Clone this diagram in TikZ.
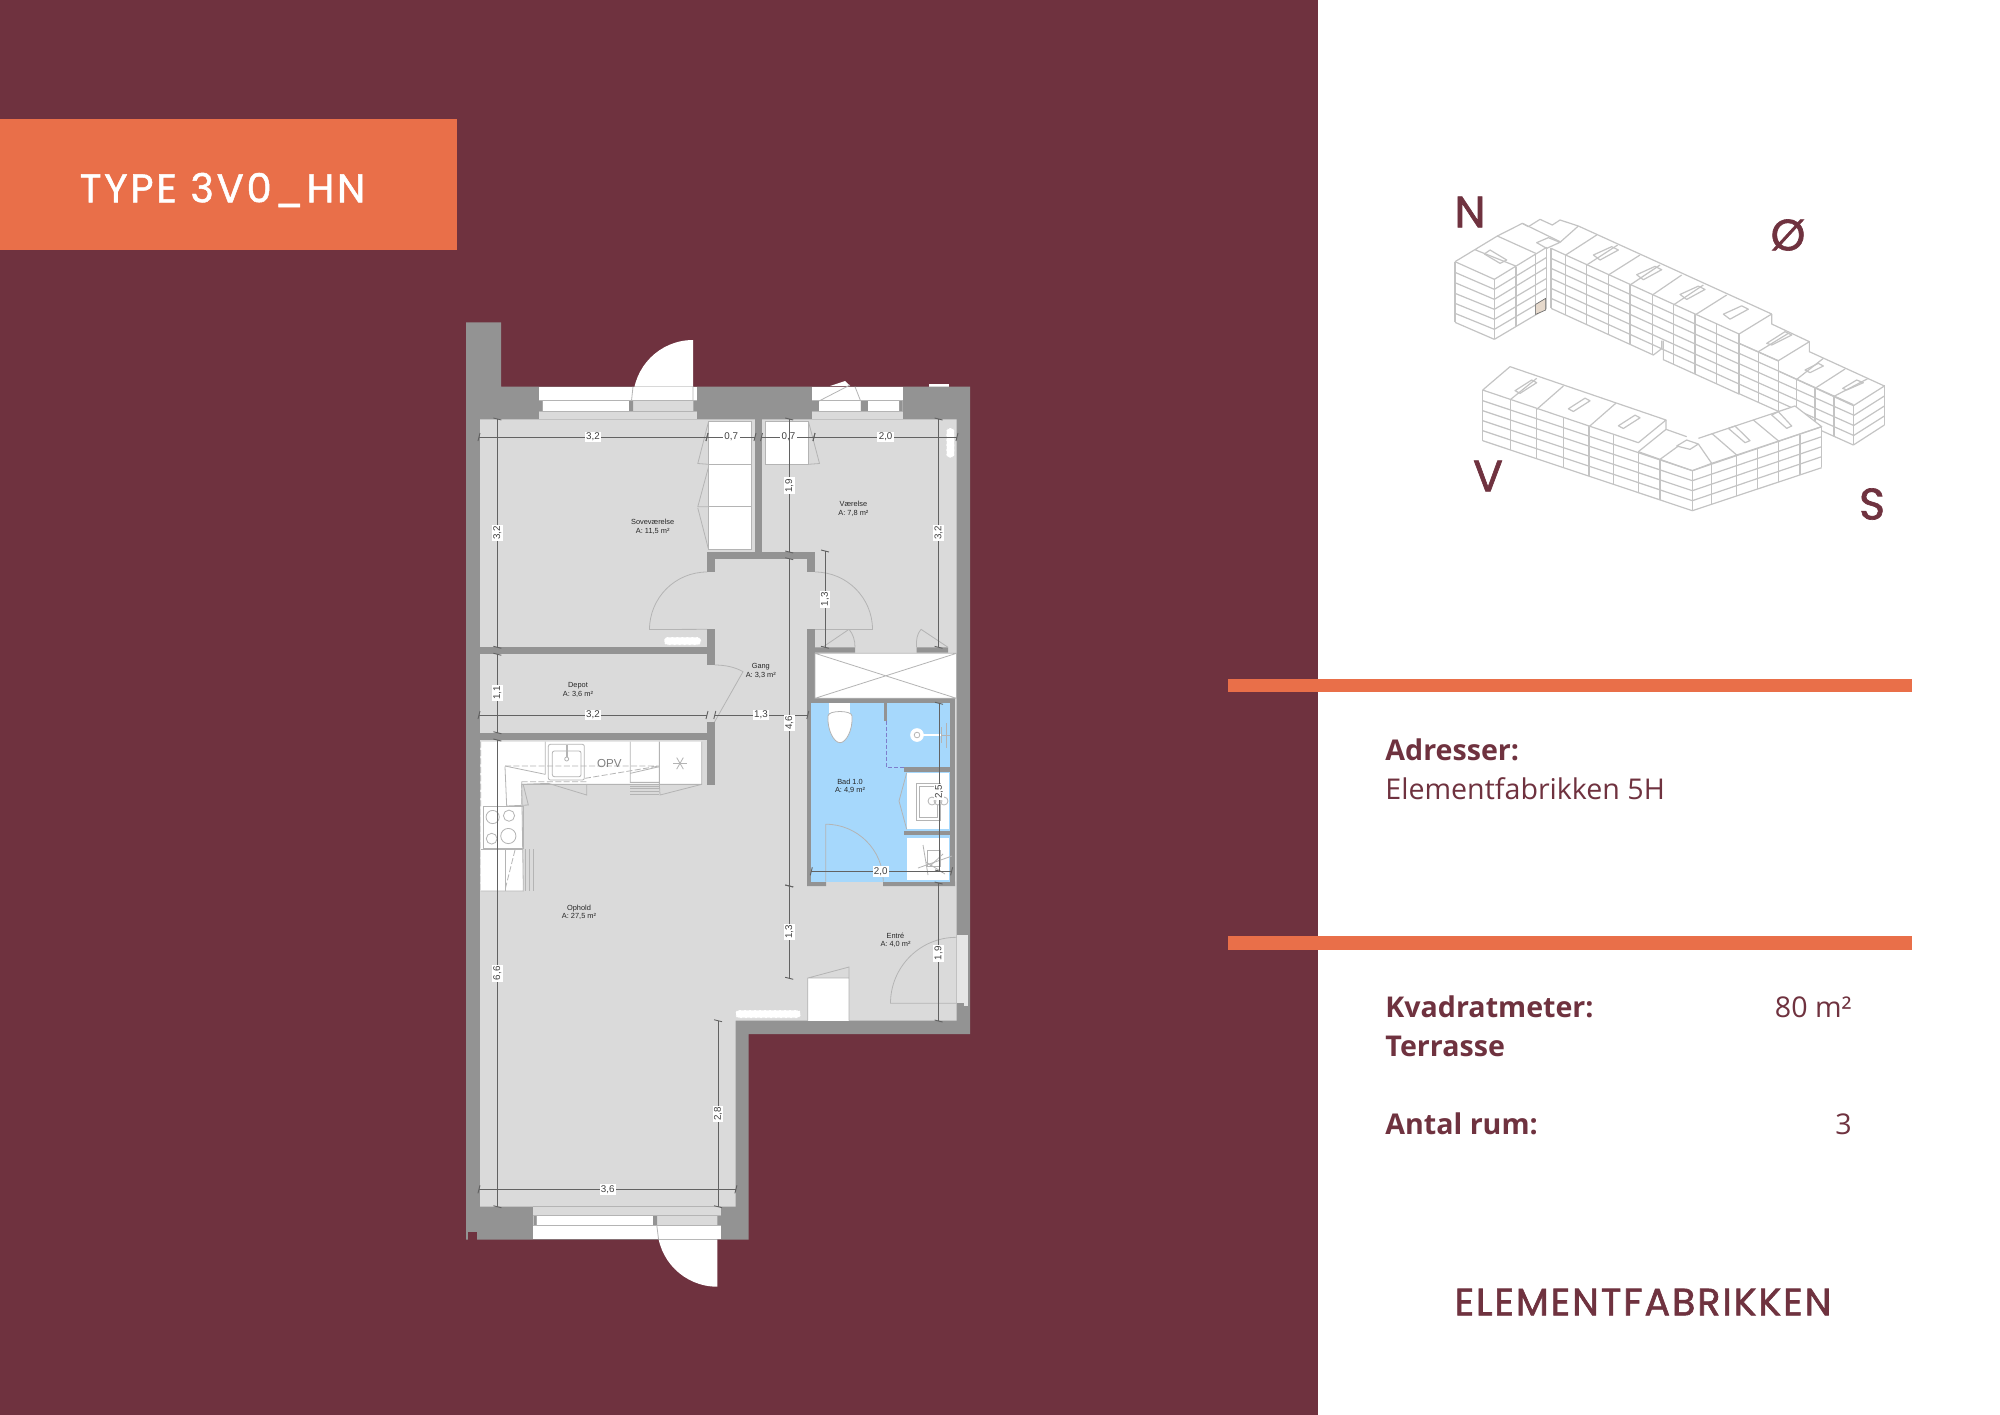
\documentclass[tikz,border=0pt]{standalone}
\usepackage{fontspec}
\setmainfont{Open Sans}
\newfontfamily\geo[LetterSpace=7,FakeBold=1.2]{Poppins}
\newfontfamily\geot[LetterSpace=5.2,FakeBold=1.6]{Poppins}
\newfontfamily\geob[FakeBold=1.5]{Poppins}
\newfontfamily\lab{Liberation Sans}
\definecolor{maroon}{HTML}{6F323F}
\definecolor{orng}{HTML}{E96F49}
\definecolor{wall}{HTML}{939393}
\definecolor{flr}{HTML}{DADADA}
\definecolor{thin}{HTML}{B4B4B4}
\definecolor{bath}{HTML}{A6D8FC}
\definecolor{dimc}{HTML}{626262}
\definecolor{bl}{HTML}{C4C4C4}
\tikzset{
  wl/.style={fill=wall,draw=none},
  wh/.style={fill=white,draw=none},
  fl/.style={draw=thin,line width=.4pt},
  flw/.style={draw=thin,line width=.4pt,fill=white},
  flash/.style={draw=thin,line width=.4pt,dash pattern=on 3pt off 1.2pt},
  rad/.style={fill=white,draw=flr,rounded corners=1.6pt,dash pattern=on 1.5pt off 1pt,line width=.3pt},
  dimln/.style={draw=dimc,line width=.45pt},
  dimlb/.style={fill=white,inner sep=.7pt,text=black!75,font=\lab\fontsize{4.9}{5.6}\selectfont},
  rm/.style={align=center,text=black!85,font=\lab\fontsize{3.7}{4.4}\selectfont,inner sep=0pt},
  bld/.style={draw=bl,line width=.6pt,line join=round},
  comp/.style={text=maroon,font=\geob\fontsize{22}{25}\selectfont,inner sep=0pt},
  info/.style={text=maroon,anchor=base west,inner sep=0pt,font=\fontsize{14.3}{17}\selectfont},
  inforr/.style={text=maroon,anchor=base east,inner sep=0pt,font=\fontsize{14.3}{17}\selectfont},
}
\newcommand\dimH[5]{%
  \draw[dimln] (#1,#3) -- (#2,#3);
  \draw[dimln] (#1-1,#3+4) -- (#1+1,#3-4) (#2-1,#3+4) -- (#2+1,#3-4);
  \node[dimlb] at (#5,#3) {#4};}
\newcommand\dimV[5]{%
  \draw[dimln] (#3,#1) -- (#3,#2);
  \draw[dimln] (#3-4,#1-1) -- (#3+4,#1+1) (#3-4,#2-1) -- (#3+4,#2+1);
  \node[dimlb,rotate=90] at (#3,#5) {#4};}
\begin{document}
\begin{tikzpicture}[x=.5pt,y=-.5pt]
\useasboundingbox (0,0) rectangle (2000,1414);
\fill[maroon] (-5,-5) rectangle (1318,1425);
\fill[white] (1318,-5) rectangle (2005,1425);
% title
\fill[orng] (-5,119) rectangle (457,250);
\node[text=white,inner sep=0pt,font=\geo\fontsize{20}{22}\selectfont] (title) at (222.5,190) {TYPE 3V0\_HN};
% info bars
\fill[orng] (1228,678.5) rectangle (1912,691.5);
\fill[orng] (1228,936) rectangle (1912,950);
\node[info] (a1) at (1385,760) {\bfseries Adresser:};
\node[info] (a2) at (1385,799) {Elementfabrikken 5H};
\node[info] (k1) at (1385,1017) {\bfseries Kvadratmeter:};
\node[inforr] (k2) at (1852,1017) {80 m²};
\node[info] (t1) at (1385,1056) {\bfseries Terrasse};
\node[info] (r1) at (1385,1134) {\bfseries Antal rum:};
\node[inforr] (r2) at (1852,1134) {3};
\node[text=maroon,inner sep=0pt,font=\geot\fontsize{19}{22}\selectfont] (brand) at (1643,1302) {ELEMENTFABRIKKEN};
% compass
\node[comp] (n) at (1470,212) {N};
\node[comp] (o) at (1788,235) {Ø};
\node[comp] (v) at (1488,476) {V};
\node[comp] (s) at (1872,504) {S};
% building
\begin{scope}[shift={(1420,170)},x=.16667pt,y=-.16667pt]
 \foreach \a/\b in {275/328,307/358,338/388,370/418,400/448,430/478,457/508} \draw[bld] (105,\a)--(223,\b);
 \foreach \a/\b in {328/232,358/262,388/292,418/325,448/355,478/385,508/415} \draw[bld] (223,\a)--(380,\b);
 \foreach \a/\b/\c in {105/275/457,223/328/508,288/290/470,347/252/435,380/232/415,393/235/415} \draw[bld] (\a,\b)--(\a,\c);
 \draw[bld] (105,275)--(232,198)--(347,250) (167,240)--(287,288);
 \draw[bld] (232,198)--(307,160)--(325,170)--(360,148)--(397,165)--(420,150)--(475,168)--(1055,432);
 \draw[bld] (307,160)--(420,215);
 \draw[bld] (350,218)--(385,203)--(420,217)--(380,235)--cycle (420,217)--(475,168);
 \draw[bld] (193,252)--(210,240)--(260,270)--(240,280)--cycle;
 \fill[fill=black!20!brown!25!white,draw=black!60,line width=.3pt] (347,403)--(377,385)--(377,420)--(347,433)--cycle;
 % wing B
 \foreach \a in {235,265,295,325,355,385} \draw[bld] (393,\a)--(957,{\a+257});
 \draw[bld] (393,415)--(700,555)--(725,536)--(725,512) (730,512)--(730,569)--(957,672);
 \foreach \x in {437,500,565,630,697} \draw[bld] (\x,{235+.456*(\x-393)})--(\x,{415+.456*(\x-393)});
 \foreach \x in {760,825,890,957} \draw[bld] (\x,{235+.456*(\x-393)})--(\x,{415+.456*(\x-393)});
 \foreach \a/\b/\c/\d in {437/255/530/195,500/285/593/225,565/315/660/255,630/345/720/285,697/375/785/315,760/405/850/345,825/435/920/375,957/492/1055/432}
   \draw[bld] (\a,\b)--(\c,\d);
 \foreach \p in {0,130,260,390}
   \draw[bld] ({520+\p},{255+.455*\p})--({575+\p},{230+.455*\p})--({595+\p},{240+.455*\p})--({540+\p},{270+.455*\p})--cycle;
 % step 2
 \draw[bld] (1055,432)--(1055,462)--(1168,515)--(1075,572)--(957,520);
 \draw[bld] (1015,545)--(1105,490);
 \draw[bld] (1040,520)--(1095,485)--(1115,495)--(1055,525)--cycle;
 \foreach \a in {550,581,612,642,671} \draw[bld] (957,\a)--(1300,{\a+154});
 \draw[bld] (957,520)--(1075,573);
 \draw[bld] (1015,545)--(1015,697) (1075,573)--(1075,725);
 % step 3
 \draw[bld] (1168,515)--(1168,545)--(1393,648)--(1300,707)--(1075,603);
 \draw[bld] (1130,628)--(1210,565) (1185,655)--(1275,597) (1240,680)--(1345,625);
 \draw[bld] (1155,600)--(1195,580)--(1210,588)--(1170,608)--cycle;
 \draw[bld] (1268,655)--(1310,630)--(1330,638)--(1280,660)--cycle;
 \foreach \x/\b in {1130/750,1185/770,1242/797,1300/825,1393/765} \draw[bld] (\x,{\b-120})--(\x,\b);
 \foreach \a/\b in {737/678,767/708,797/738,825/765} \draw[bld] (1300,\a)--(1393,\b);
 % south wing
 \fill[white] (188,660)--(270,590)--(738,750)--(825,805)--(1125,708)--(1205,770)--(1205,893)--(817,1022)--(188,812)--cycle;
 \draw[bld] (188,660)--(270,590)--(738,750)--(655,818)--(188,660);
 \draw[bld] (738,750)--(738,778)--(655,845);
 \foreach \a in {692,722,752,782,812} \draw[bld] (188,\a)--(817,{\a+210});
 \foreach \x in {188,272,350,430,507,580} \draw[bld] (\x,{660+.335*(\x-188)})--(\x,{812+.335*(\x-188)});
 \draw[bld] (655,845)--(655,968) (720,868)--(720,990) (817,902)--(817,1022);
 \draw[bld] (272,688)--(350,625) (350,718)--(430,648) (507,770)--(587,700);
 \foreach \p in {0,160,310} \draw[bld] ({285+\p},{662+.34*\p})--({335+\p},{630+.34*\p})--({350+\p},{638+.34*\p})--({300+\p},{670+.34*\p})--cycle;
 \draw[bld] (738,778)--(800,800) (655,845)--(720,868)--(775,828);
 \draw[bld] (720,868)--(817,902)--(875,880)--(1205,770)--(1125,708)--(835,805);
 \draw[bld] (770,828)--(800,810)--(835,822)--(810,838)--cycle;
 \draw[bld] (835,822)--(875,880) (875,790)--(950,855) (1000,750)--(1078,815);
 \draw[bld] (925,775)--(945,768)--(990,812)--(975,818)--cycle;
 \draw[bld] (1055,735)--(1075,725)--(1115,768)--(1100,775)--cycle;
 \foreach \a/\b in {902/770,932/800,962/830,992/860,1022/893} \draw[bld] (817,\a)--(1205,\b);
 \foreach \x in {875,950,1012,1075,1140,1205} \draw[bld] (\x,{902-.335*(\x-817)})--(\x,{1022-.335*(\x-817)});
\end{scope}
% ---- plan
\fill[white] (693,400)--(633,400) arc[start angle=180,end angle=270,radius=60]--cycle;
\fill[white] (717.3,1226.7)--(717.3,1286.7) arc[start angle=90,end angle=180,radius=60]--cycle;
\fill[white] (830,386)--(845,381)--(850,386)--cycle;
\fill[white] (929,384) rectangle (949,387);
\fill[wall] (466,322.3)--(501,322.3)--(501,386.7)--(970,386.7)--(970,1034)--(748.5,1034)--(748.5,1239.5)--(466,1239.5)--cycle;
\fill[flr] (480,419.3)--(956.5,419.3)--(956.5,1020.7)--(735.5,1020.7)--(735.5,1206.7)--(480,1206.7)--cycle;
\fill[maroon] (467.5,1231.7) rectangle (477,1239.5);
% top window 1
\fill[white] (538.5,387) rectangle (697,400.7);
\fill[flr] (538.5,400.7) rectangle (697,419.3);
\fill[wall] (538.5,400.7) rectangle (542.5,411) (629,400.7) rectangle (633,411) (693.4,400.7) rectangle (697,411);
\fill[white] (542.5,400.7) rectangle (629,411);
\draw[fl] (538.5,400.7)--(697,400.7) (538.5,411)--(697,411);
\draw[fl] (633,386.7)--(631.5,400.7) (693,386.7)--(693,400.7);
% top window 2
\fill[white] (812,387) rectangle (902.5,400.7);
\fill[flr] (812,400.7) rectangle (902.5,419.3);
\fill[wall] (812,400.7) rectangle (819,411) (860.5,400.7) rectangle (868,411) (899,400.7) rectangle (902.5,411);
\fill[white] (819,400.7) rectangle (860.5,411) (868,400.7) rectangle (899,411);
\draw[fl] (812,400.7)--(902.5,400.7) (812,411)--(902.5,411);
\draw[fl] (819,401)--(850,385) (855,386.7)--(860.5,400.7);
% bottom window
\fill[flr] (533,1206.7) rectangle (721,1225.3);
\fill[white] (533,1225.3) rectangle (721,1238.7);
\fill[wall] (533.5,1215) rectangle (536.6,1225.3) (652.7,1215) rectangle (657,1225.3) (717.3,1215) rectangle (721,1225.3);
\fill[white] (536.6,1215) rectangle (652.7,1225.3);
\draw[fl] (533,1215)--(721,1215) (533,1225.3)--(721,1225.3) (533,1206.7)--(721,1206.7);
\draw[fl] (656.8,1225.3)--(658.5,1239);
% entry door recess
\fill[flr!70!white] (956.5,935) rectangle (968,1003);
\fill[wall] (956.5,1003) rectangle (970,1021);
\fill[flr!70!white] (964,1003) rectangle (968,1006);
% interior walls
\fill[wl] (755,419.3) rectangle (762,553);
\fill[wl] (707,552) rectangle (815,558.7);
\fill[wl] (707,552) rectangle (714.5,572);
\fill[wl] (807,552) rectangle (815,572);
\fill[wl] (707,629.3) rectangle (714.5,665);
\fill[wl] (480,647.3) rectangle (714.5,654.3);
\fill[wl] (480,732.7) rectangle (714.5,740);
\fill[wl] (707,722) rectangle (714.5,785);
% bath + closet walls
\fill[wl] (807,629.3) rectangle (815,886);
\fill[wl] (815,647.3) rectangle (855,652.7) (916.5,647.3) rectangle (948,652.7);
\fill[wl] (807,698) rectangle (955,703.3);
\fill[wl] (950,698) rectangle (955,886);
\fill[wl] (807,881.7) rectangle (826,886) (883,881.7) rectangle (955,886);
% closet
\fill[white] (815,653.3) rectangle (956.5,698.3);
\draw[fl] (815,653.3) rectangle (956.5,698.3) (815,653.3)--(956.5,698.3) (815,698.3)--(956.5,653.3);
\draw[fl] (822.5,647.3)--(849,629.3) (849,629.3) .. controls (853,634) and (855,640) .. (855,647.3);
\draw[fl] (948,647.3)--(921,629.3) (921,629.3) .. controls (917,634) and (916,640) .. (916.5,647.3);
% bath
\fill[bath] (811.3,703.3) rectangle (950,881.7);
\fill[wl] (884,703.3) rectangle (886.7,720.7);
\draw[draw=thin!70!blue,line width=.4pt,dash pattern=on 2pt off 1pt] (886.7,720.7)--(886.7,767.3)--(903.5,767.3);
\fill[wl] (903.5,767.3) rectangle (950,772);
\fill[wl] (903.5,830.7) rectangle (950,835.3);
\fill[white] (906.7,772.7) rectangle (949,829.3);
\fill[white] (906.7,837.7) rectangle (949,880);
\draw[fl] (930,866)--(943,854) (926,862) -- (945,874);
\draw[fl] (927,850) rectangle (940,866);
\draw[fl] (923,845)--(928,875) (918,868) -- (952,856);
\draw[fl] (916,783) rectangle (940,820) (919,786) rectangle (937,817);
\draw[fl] (906.7,772.7)--(899,801)--(906.7,829.3);
\draw[draw=thin,line width=.4pt,fill=white] (932,801) circle (2pt) (938,801) circle (2pt) (944,801) circle (2pt);
% toilet
\fill[white] (829,703.3) rectangle (850,713);
\fill[white] (828,716) .. controls (828,710) and (852,710) .. (852,716) .. controls (853,730) and (846,742.7) .. (840,742.7) .. controls (834,742.7) and (827,730) .. (828,716) -- cycle;
\draw[fl] (828,716) .. controls (828,710) and (852,710) .. (852,716) .. controls (853,730) and (846,742.7) .. (840,742.7) .. controls (834,742.7) and (827,730) .. (828,716) -- cycle;
% shower
\draw[draw=white,line width=1pt] (917,735)--(941,735);
\filldraw[fill=white,draw=white] (917,735) circle (3.2pt);
\draw[fl] (917,735) circle (1.4pt);
\draw[fl] (941,727)--(941,743) (946,723)--(946,748) (941,735)--(950,735);
% bath door
\draw[fl] (825.7,881.7)--(825.7,824.2) arc[start angle=270,end angle=360,radius=57.5];
% kitchen
\begin{scope}[shift={(470,735)},x=.16667pt,y=-.16667pt]
 \fill[white] (32,20)--(695,20)--(695,148)--(155,148)--(160,468)--(32,468)--cycle;
 \draw[fl] (695,20)--(695,148)--(155,148)--(160,468)--(32,468);
 \draw[flash,draw=flr] (32,20)--(32,468);
 \draw[fl] (40,215) rectangle (160,340) (32,342)--(160,342);
 \draw[fl] (68,246) circle (3.3pt) (117,242) circle (2.8pt) (65,311) circle (2.7pt) (115,303) circle (3.8pt);
 \draw[fl,rounded corners=1pt] (235,28) rectangle (343,135) (247,48) rectangle (333,125);
 \draw[draw=thin,line width=1pt] (290,30)--(290,65);
 \draw[fl] (290,72) circle (1pt);
 \draw[fl] (226,20)--(226,118) (481,20)--(481,142)--(568,142) (568,20)--(568,148) (481,115)--(568,95);
 \draw[flash] (105,93)--(481,93)--(568,93) (155,140)--(355,140) (155,140)--(155,212) (345,130)--(568,93) (32,20)--(32,215);
 \draw[fl] (105,93)--(226,118);
 \draw[flash] (135,345)--(105,465);
 \draw[fl] (481,153)--(568,153) (481,161)--(568,161) (481,170)--(568,170) (481,178)--(568,178);
 \draw[fl] (568,148)--(570,180)--(695,148) (155,148)--(235,145)--(350,180)--(350,148);
 \draw[fl] (160,150)--(175,210)--(110,213)--(105,95);
 \draw[fl] (165,342)--(165,468) (178,342)--(178,468) (190,342)--(190,468);
 \draw[fl] (105,342)--(105,468);
 \foreach \t in {0,60,120} \draw[fl] ({630+20*cos(\t)},{85+20*sin(\t)})--({630-20*cos(\t)},{85-20*sin(\t)});
 \node[text=black!50,inner sep=0pt,font=\lab\fontsize{5.8}{7}\selectfont] (opv) at (418,85) {OPV};
\end{scope}
% wardrobes
\draw[flw] (708.5,421.7) rectangle (751.6,549.3);
\draw[fl] (708.5,464.3)--(751.6,464.3) (708.5,506.7)--(751.6,506.7);
\draw[fl] (708.5,421.7)--(697.8,463.5)--(708.5,464.3) (708.5,467)--(697.8,506.7)--(708.5,506.7) (697.8,508)--(708.5,549.3);
\draw[flw] (765.7,421.7) rectangle (808.5,464.3);
\draw[fl] (808.5,421.7)--(819.5,463.5)--(808.5,464.3);
% entry closet
\fill[white] (807.8,978) rectangle (849,1020.7);
\draw[fl] (807.8,1020.7)--(807.8,978)--(849,967)--(849,1020.7) (807.8,978)--(849,978);
% radiators
\draw[rad] (664,637) rectangle (701,645);
\draw[rad] (946.3,428) rectangle (954.4,457.7);
\draw[rad] (735.5,1010) rectangle (800.7,1018);
% doors
\draw[fl] (707,572) arc[start angle=270,end angle=180,radius=57.5]--(707,629.3);
\draw[fl] (815,572) arc[start angle=270,end angle=360,radius=57.5]--(815,629.5);
\draw[fl] (714.5,665) .. controls (725,665) and (735,667) .. (743,671.7)--(714.5,722);
\draw[fl] (956.5,937.3) arc[start angle=270,end angle=180,radius=66]--(956.5,1003.3);
% dims
\dimH{479}{707}{437}{3,2}{593}
\dimH{707}{755}{437}{0,7}{731.3}
\dimH{761.5}{814}{437}{0,7}{788.5}
\dimH{814}{957}{437}{2,0}{885.6}
\dimH{479}{707}{715}{3,2}{593}
\dimH{714.8}{807.8}{715}{1,3}{761}
\dimH{811.3}{951.6}{871.3}{2,0}{880.7}
\dimH{479}{735.9}{1189.3}{3,6}{607.8}
\dimV{419}{647.3}{497.4}{3,2}{533}
\dimV{654.3}{732.7}{497.4}{1,1}{693}
\dimV{740}{1206.7}{497.4}{6,6}{973.3}
\dimV{419}{552}{789.2}{1,9}{485.7}
\dimV{558.7}{886}{789.2}{4,6}{722.7}
\dimV{886}{978.3}{789.2}{1,3}{931.7}
\dimV{419}{647.3}{938.6}{3,2}{533}
\dimV{883}{1021}{938.6}{1,9}{953.3}
\dimV{703.3}{871}{939}{2,5}{791.7}
\dimV{551}{647.3}{825}{1,3}{599.3}
\dimV{1020.7}{1206.7}{718}{2,8}{1114}
% rooms
\node[rm] (r1) at (652.7,526.7) {Soveværelse\\[-.2pt]A: 11,5 m²};
\node[rm] (r2) at (853.4,508.7) {Værelse\\[-.2pt]A: 7,8 m²};
\node[rm] (r3) at (760.8,671) {Gang\\[-.2pt]A: 3,3 m²};
\node[rm] (r4) at (578,690) {Depot\\[-.2pt]A: 3,6 m²};
\node[rm] (r5) at (850,786) {Bad 1.0\\[-.2pt]A: 4,9 m²};
\node[rm] (r6) at (579,912.3) {Ophold\\[-.2pt]A: 27,5 m²};
\node[rm] (r7) at (895.5,940) {Entré\\[-.2pt]A: 4,0 m²};
\end{tikzpicture}
\end{document}
